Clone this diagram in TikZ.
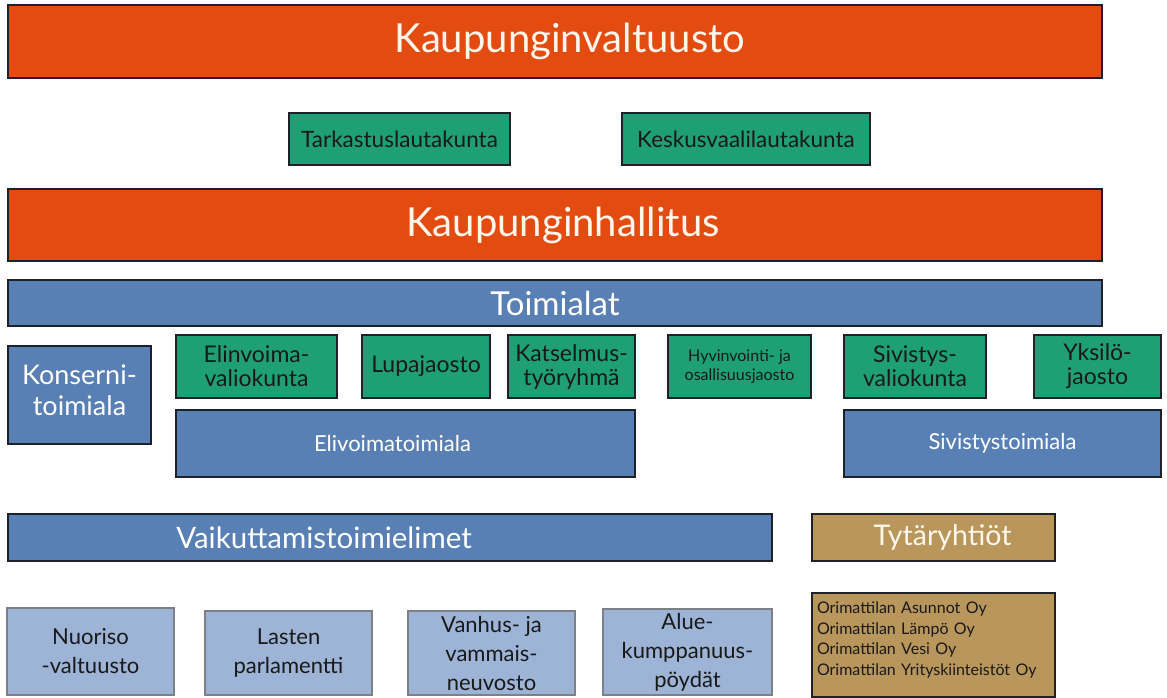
\documentclass[tikz,border=0pt]{standalone}
\usepackage{fontspec}
\setmainfont{Lato}
\usetikzlibrary{positioning}
\definecolor{kvorange}{RGB}{227,75,16}
\definecolor{lautgreen}{RGB}{30,160,116}
\definecolor{toimblue}{RGB}{89,128,180}
\definecolor{palblue}{RGB}{157,180,214}
\definecolor{yhtgold}{RGB}{185,150,92}
\definecolor{edge}{RGB}{30,34,40}
\definecolor{paledge}{RGB}{125,128,132}
\definecolor{cream}{RGB}{255,246,236}

\begin{document}
\begin{tikzpicture}[x=1pt,y=-1pt,every node/.style={inner sep=0pt,align=center}]
\tikzstyle{ob}=[draw=edge,line width=1.2pt,fill=kvorange,text=cream,font={\fontsize{40}{48}\selectfont}]
\tikzstyle{gb}=[draw=edge,line width=1.2pt,fill=lautgreen,text=black!90,font={\fontsize{23}{24}\selectfont}]
\tikzstyle{bb}=[draw=edge,line width=1.2pt,fill=toimblue,text=white]
\tikzstyle{lb}=[draw=paledge,line width=1.5pt,fill=palblue,text=black!90,font={\fontsize{22}{29}\selectfont}]
\tikzstyle{yb}=[draw=edge,line width=1.2pt,fill=yhtgold]
\useasboundingbox (0,0) rectangle (1167,697);
% valtuusto ja hallitus
\node[ob,minimum width=1094pt,minimum height=73pt] (kv) at (555,41.5) {\hspace*{30pt}Kaupunginvaltuusto};
\node[gb,minimum width=221pt,minimum height=52pt,font={\fontsize{22.5}{26}\selectfont}] (tark) at (399.5,139) {Tarkastuslautakunta};
\node[gb,minimum width=248pt,minimum height=52pt,font={\fontsize{22.5}{26}\selectfont}] (kesk) at (746,139) {Keskusvaalilautakunta};
\node[ob,minimum width=1094pt,minimum height=72pt] (kh) at (555,225) {\hspace*{16pt}Kaupunginhallitus};
% toimialat
\node[bb,minimum width=1094pt,minimum height=46pt,font={\fontsize{33}{38}\selectfont}] (toim) at (555,303) {Toimialat};
\node[bb,minimum width=143pt,minimum height=98pt,font={\fontsize{27}{31}\selectfont}] (kons) at (79.5,395) {Konserni-\\toimiala\\[-22pt]\mbox{}};
\node[gb,minimum width=161pt,minimum height=63pt] (elv) at (256.5,366.5) {Elinvoima-\\valiokunta};
\node[gb,minimum width=128pt,minimum height=63pt] (lupa) at (426,366.5) {Lupajaosto};
\node[gb,minimum width=127pt,minimum height=63pt] (kats) at (571.5,366.5) {Katselmus-\\työryhmä};
\node[gb,minimum width=143pt,minimum height=63pt,font={\fontsize{16}{19}\selectfont}] (hyv) at (739.5,366.5) {Hyvinvointi- ja\\osallisuusjaosto};
\node[gb,minimum width=142pt,minimum height=63pt] (siv) at (915,366.5) {Sivistys-\\valiokunta};
\node[gb,minimum width=127pt,minimum height=63pt] (yks) at (1097.5,366.5) {Yksilö-\\jaosto};
\node[bb,minimum width=459pt,minimum height=67pt,font={\fontsize{22}{26}\selectfont}] (elvt) at (405.5,443.5) {\hspace*{-26pt}Elivoimatoimiala};
\node[bb,minimum width=317pt,minimum height=67pt,font={\fontsize{22}{26}\selectfont}] (sivt) at (1002.5,443.5) {Sivistystoimiala};
% vaikuttamistoimielimet ja yhtiöt
\node[bb,minimum width=764pt,minimum height=47pt,font={\fontsize{29.5}{34}\selectfont}] (vaik) at (390,537.5) {\hspace*{-132pt}Vaikuttamistoimielimet};
\node[yb,minimum width=243pt,minimum height=47pt,text=cream,font={\fontsize{28.5}{32}\selectfont}] (tyt) at (933.5,537.5) {\hspace*{18pt}Tytäryhtiöt};
\node[lb,minimum width=167pt,minimum height=87pt] (nuor) at (90.5,651.5) {Nuoriso\\-valtuusto};
\node[lb,minimum width=167pt,minimum height=84pt] (last) at (288.5,653) {Lasten\\parlamentti};
\node[lb,minimum width=167pt,minimum height=84pt] (vanh) at (491.5,653) {Vanhus- ja\\vammais-\\neuvosto};
\node[lb,minimum width=169pt,minimum height=86pt] (alue) at (687.5,652) {Alue-\\kumppanuus-\\pöydät};
\node[yb,minimum width=243pt,minimum height=104pt,text=black!90,align=left,text width=233pt,font={\fontsize{16}{20.5}\selectfont}] (yht) at (933.5,645) {Orimattilan Asunnot Oy\\Orimattilan Lämpö Oy\\Orimattilan Vesi Oy\\Orimattilan Yrityskiinteistöt Oy\\[-8pt]\mbox{}};
\end{tikzpicture}
\end{document}
